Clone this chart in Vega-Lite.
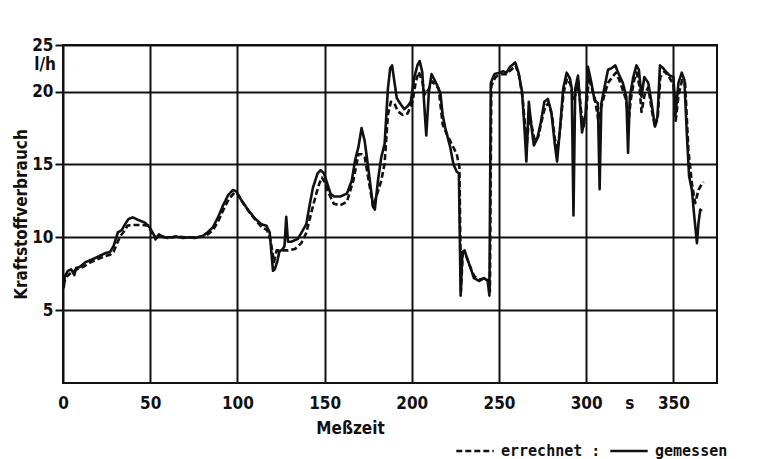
{
  "$schema": "https://vega.github.io/schema/vega-lite/v6.json",
  "width": 654,
  "height": 338,
  "autosize": {"type": "none"},
  "padding": {"left": 63, "top": 45, "right": 41, "bottom": 76},
  "background": "white",
  "config": {
    "view": {"stroke": "#111", "strokeWidth": 2},
    "font": "DejaVu Sans Condensed, Liberation Sans Narrow, sans-serif"
  },
  "datasets": {
    "curves": [
      {"serie": "gemessen", "t": 0, "v": 6.5}, {"serie": "gemessen", "t": 0.5, "v": 6.6}, {"serie": "gemessen", "t": 1, "v": 7.3}, {"serie": "gemessen", "t": 2.8, "v": 7.7}, {"serie": "gemessen", "t": 4.7, "v": 7.8}, {"serie": "gemessen", "t": 6.5, "v": 7.4}, {"serie": "gemessen", "t": 7.5, "v": 7.9}, {"serie": "gemessen", "t": 9.4, "v": 7.95}, {"serie": "gemessen", "t": 11, "v": 8.1}, {"serie": "gemessen", "t": 13, "v": 8.3}, {"serie": "gemessen", "t": 15, "v": 8.4}, {"serie": "gemessen", "t": 17, "v": 8.5}, {"serie": "gemessen", "t": 20.6, "v": 8.7}, {"serie": "gemessen", "t": 24, "v": 8.9}, {"serie": "gemessen", "t": 27, "v": 9.0}, {"serie": "gemessen", "t": 29, "v": 9.4}, {"serie": "gemessen", "t": 31.5, "v": 10.35}, {"serie": "gemessen", "t": 33.7, "v": 10.5}, {"serie": "gemessen", "t": 35.6, "v": 10.9}, {"serie": "gemessen", "t": 37.5, "v": 11.25}, {"serie": "gemessen", "t": 40, "v": 11.37}, {"serie": "gemessen", "t": 43, "v": 11.2}, {"serie": "gemessen", "t": 47, "v": 11.0}, {"serie": "gemessen", "t": 49.6, "v": 10.7}, {"serie": "gemessen", "t": 52.4, "v": 10.1}, {"serie": "gemessen", "t": 53, "v": 9.85}, {"serie": "gemessen", "t": 55, "v": 10.2}, {"serie": "gemessen", "t": 58, "v": 10.0}, {"serie": "gemessen", "t": 62, "v": 10.0}, {"serie": "gemessen", "t": 65, "v": 10.05}, {"serie": "gemessen", "t": 69, "v": 9.95}, {"serie": "gemessen", "t": 72, "v": 10.0}, {"serie": "gemessen", "t": 75.6, "v": 9.95}, {"serie": "gemessen", "t": 80.3, "v": 10.1}, {"serie": "gemessen", "t": 83, "v": 10.35}, {"serie": "gemessen", "t": 86, "v": 10.7}, {"serie": "gemessen", "t": 89, "v": 11.4}, {"serie": "gemessen", "t": 91.8, "v": 12.2}, {"serie": "gemessen", "t": 94.7, "v": 12.9}, {"serie": "gemessen", "t": 97.5, "v": 13.25}, {"serie": "gemessen", "t": 99.4, "v": 13.15}, {"serie": "gemessen", "t": 102, "v": 12.6}, {"serie": "gemessen", "t": 106, "v": 11.9}, {"serie": "gemessen", "t": 110, "v": 11.3}, {"serie": "gemessen", "t": 113.7, "v": 10.9}, {"serie": "gemessen", "t": 116.6, "v": 10.8}, {"serie": "gemessen", "t": 118.5, "v": 10.35}, {"serie": "gemessen", "t": 119.5, "v": 8.95}, {"serie": "gemessen", "t": 120.4, "v": 7.7}, {"serie": "gemessen", "t": 121.4, "v": 7.8}, {"serie": "gemessen", "t": 123, "v": 8.4}, {"serie": "gemessen", "t": 124, "v": 9.0}, {"serie": "gemessen", "t": 126, "v": 9.2}, {"serie": "gemessen", "t": 127, "v": 9.4}, {"serie": "gemessen", "t": 128, "v": 11.4}, {"serie": "gemessen", "t": 129, "v": 9.7}, {"serie": "gemessen", "t": 131, "v": 9.7}, {"serie": "gemessen", "t": 134.7, "v": 9.9}, {"serie": "gemessen", "t": 137.6, "v": 10.5}, {"serie": "gemessen", "t": 139.5, "v": 10.9}, {"serie": "gemessen", "t": 141.4, "v": 12.2}, {"serie": "gemessen", "t": 143.3, "v": 13.4}, {"serie": "gemessen", "t": 146, "v": 14.4}, {"serie": "gemessen", "t": 147.7, "v": 14.6}, {"serie": "gemessen", "t": 149.6, "v": 14.4}, {"serie": "gemessen", "t": 151.5, "v": 13.7}, {"serie": "gemessen", "t": 153.4, "v": 13.0}, {"serie": "gemessen", "t": 155.3, "v": 12.8}, {"serie": "gemessen", "t": 159, "v": 12.8}, {"serie": "gemessen", "t": 162.8, "v": 13.0}, {"serie": "gemessen", "t": 165.6, "v": 13.9}, {"serie": "gemessen", "t": 167.5, "v": 15.3}, {"serie": "gemessen", "t": 169.4, "v": 16.2}, {"serie": "gemessen", "t": 171.2, "v": 17.5}, {"serie": "gemessen", "t": 173, "v": 16.6}, {"serie": "gemessen", "t": 175, "v": 14.8}, {"serie": "gemessen", "t": 177.8, "v": 12.1}, {"serie": "gemessen", "t": 178.8, "v": 11.9}, {"serie": "gemessen", "t": 180.6, "v": 13.9}, {"serie": "gemessen", "t": 182.5, "v": 15.5}, {"serie": "gemessen", "t": 184.4, "v": 16.4}, {"serie": "gemessen", "t": 186.3, "v": 20.2}, {"serie": "gemessen", "t": 187.6, "v": 21.6}, {"serie": "gemessen", "t": 188.7, "v": 21.8}, {"serie": "gemessen", "t": 190, "v": 20.7}, {"serie": "gemessen", "t": 191.4, "v": 19.55}, {"serie": "gemessen", "t": 193.8, "v": 19.1}, {"serie": "gemessen", "t": 195.7, "v": 18.8}, {"serie": "gemessen", "t": 197.6, "v": 19.0}, {"serie": "gemessen", "t": 199.4, "v": 19.3}, {"serie": "gemessen", "t": 201.3, "v": 20.9}, {"serie": "gemessen", "t": 203.2, "v": 21.8}, {"serie": "gemessen", "t": 204.5, "v": 22.1}, {"serie": "gemessen", "t": 206, "v": 21.35}, {"serie": "gemessen", "t": 207.5, "v": 18.4}, {"serie": "gemessen", "t": 208.3, "v": 17.0}, {"serie": "gemessen", "t": 209.8, "v": 20.0}, {"serie": "gemessen", "t": 211.3, "v": 21.2}, {"serie": "gemessen", "t": 212.6, "v": 20.9}, {"serie": "gemessen", "t": 214.5, "v": 20.45}, {"serie": "gemessen", "t": 216.4, "v": 19.9}, {"serie": "gemessen", "t": 217.7, "v": 18.4}, {"serie": "gemessen", "t": 219.2, "v": 17.5}, {"serie": "gemessen", "t": 222, "v": 16.2}, {"serie": "gemessen", "t": 223.9, "v": 15.0}, {"serie": "gemessen", "t": 225.8, "v": 14.5}, {"serie": "gemessen", "t": 227, "v": 14.4}, {"serie": "gemessen", "t": 228, "v": 6.0}, {"serie": "gemessen", "t": 229, "v": 9.0}, {"serie": "gemessen", "t": 230.3, "v": 9.1}, {"serie": "gemessen", "t": 231.7, "v": 8.55}, {"serie": "gemessen", "t": 233.7, "v": 7.9}, {"serie": "gemessen", "t": 235.6, "v": 7.2}, {"serie": "gemessen", "t": 238.6, "v": 7.0}, {"serie": "gemessen", "t": 241.5, "v": 7.2}, {"serie": "gemessen", "t": 243.5, "v": 7.0}, {"serie": "gemessen", "t": 244.5, "v": 6.0}, {"serie": "gemessen", "t": 245.3, "v": 20.6}, {"serie": "gemessen", "t": 247.4, "v": 21.2}, {"serie": "gemessen", "t": 250.4, "v": 21.3}, {"serie": "gemessen", "t": 252.4, "v": 21.4}, {"serie": "gemessen", "t": 254.3, "v": 21.3}, {"serie": "gemessen", "t": 256.3, "v": 21.7}, {"serie": "gemessen", "t": 259.3, "v": 22.0}, {"serie": "gemessen", "t": 261.2, "v": 21.3}, {"serie": "gemessen", "t": 263.2, "v": 20.0}, {"serie": "gemessen", "t": 264.6, "v": 17.5}, {"serie": "gemessen", "t": 265.7, "v": 15.2}, {"serie": "gemessen", "t": 267.1, "v": 19.3}, {"serie": "gemessen", "t": 268.5, "v": 17.7}, {"serie": "gemessen", "t": 270, "v": 16.3}, {"serie": "gemessen", "t": 272, "v": 16.8}, {"serie": "gemessen", "t": 274, "v": 17.9}, {"serie": "gemessen", "t": 276, "v": 19.3}, {"serie": "gemessen", "t": 278, "v": 19.5}, {"serie": "gemessen", "t": 280, "v": 18.6}, {"serie": "gemessen", "t": 281.9, "v": 16.5}, {"serie": "gemessen", "t": 283.3, "v": 15.2}, {"serie": "gemessen", "t": 284.8, "v": 17.2}, {"serie": "gemessen", "t": 286.8, "v": 20.2}, {"serie": "gemessen", "t": 288.8, "v": 21.3}, {"serie": "gemessen", "t": 290.7, "v": 20.9}, {"serie": "gemessen", "t": 291.7, "v": 20.2}, {"serie": "gemessen", "t": 292.7, "v": 11.5}, {"serie": "gemessen", "t": 293.7, "v": 20.2}, {"serie": "gemessen", "t": 295.3, "v": 21.1}, {"serie": "gemessen", "t": 296.7, "v": 18.8}, {"serie": "gemessen", "t": 297.6, "v": 17.2}, {"serie": "gemessen", "t": 299.6, "v": 18.4}, {"serie": "gemessen", "t": 301, "v": 21.7}, {"serie": "gemessen", "t": 303, "v": 20.6}, {"serie": "gemessen", "t": 304.8, "v": 19.4}, {"serie": "gemessen", "t": 306.7, "v": 19.2}, {"serie": "gemessen", "t": 307.7, "v": 13.3}, {"serie": "gemessen", "t": 308.7, "v": 19.2}, {"serie": "gemessen", "t": 310.6, "v": 20.35}, {"serie": "gemessen", "t": 312.5, "v": 21.5}, {"serie": "gemessen", "t": 314.4, "v": 21.6}, {"serie": "gemessen", "t": 316.7, "v": 21.8}, {"serie": "gemessen", "t": 318.3, "v": 21.3}, {"serie": "gemessen", "t": 321, "v": 20.6}, {"serie": "gemessen", "t": 323, "v": 19.65}, {"serie": "gemessen", "t": 324, "v": 15.8}, {"serie": "gemessen", "t": 325, "v": 19.65}, {"serie": "gemessen", "t": 327, "v": 21.0}, {"serie": "gemessen", "t": 328.8, "v": 21.8}, {"serie": "gemessen", "t": 330.2, "v": 21.5}, {"serie": "gemessen", "t": 331.7, "v": 19.65}, {"serie": "gemessen", "t": 333.3, "v": 21.0}, {"serie": "gemessen", "t": 335.6, "v": 20.6}, {"serie": "gemessen", "t": 337.5, "v": 19.2}, {"serie": "gemessen", "t": 339.4, "v": 17.6}, {"serie": "gemessen", "t": 340.9, "v": 18.3}, {"serie": "gemessen", "t": 342.3, "v": 21.8}, {"serie": "gemessen", "t": 344.2, "v": 21.6}, {"serie": "gemessen", "t": 346.2, "v": 21.3}, {"serie": "gemessen", "t": 348, "v": 21.1}, {"serie": "gemessen", "t": 350, "v": 21.0}, {"serie": "gemessen", "t": 351.3, "v": 18.5}, {"serie": "gemessen", "t": 352.9, "v": 20.6}, {"serie": "gemessen", "t": 354.8, "v": 21.3}, {"serie": "gemessen", "t": 356.3, "v": 20.8}, {"serie": "gemessen", "t": 357.7, "v": 17.1}, {"serie": "gemessen", "t": 359, "v": 14.2}, {"serie": "gemessen", "t": 360.6, "v": 13.25}, {"serie": "gemessen", "t": 362, "v": 11.4}, {"serie": "gemessen", "t": 363.5, "v": 9.6}, {"serie": "gemessen", "t": 364.4, "v": 11.0}, {"serie": "gemessen", "t": 365.4, "v": 11.9}, {"serie": "gemessen", "t": 366.3, "v": 11.8},

      {"serie": "errechnet", "t": 0, "v": 6.7}, {"serie": "errechnet", "t": 2, "v": 7.3}, {"serie": "errechnet", "t": 5, "v": 7.6}, {"serie": "errechnet", "t": 8, "v": 7.8}, {"serie": "errechnet", "t": 12, "v": 8.0}, {"serie": "errechnet", "t": 16, "v": 8.3}, {"serie": "errechnet", "t": 20, "v": 8.5}, {"serie": "errechnet", "t": 24, "v": 8.7}, {"serie": "errechnet", "t": 27, "v": 8.8}, {"serie": "errechnet", "t": 29, "v": 9.0}, {"serie": "errechnet", "t": 31, "v": 9.6}, {"serie": "errechnet", "t": 33, "v": 10.1}, {"serie": "errechnet", "t": 35, "v": 10.4}, {"serie": "errechnet", "t": 37, "v": 10.8}, {"serie": "errechnet", "t": 40, "v": 10.85}, {"serie": "errechnet", "t": 45, "v": 10.85}, {"serie": "errechnet", "t": 49, "v": 10.8}, {"serie": "errechnet", "t": 51, "v": 10.3}, {"serie": "errechnet", "t": 53, "v": 10.0}, {"serie": "errechnet", "t": 56, "v": 10.1}, {"serie": "errechnet", "t": 60, "v": 9.95}, {"serie": "errechnet", "t": 65, "v": 10.05}, {"serie": "errechnet", "t": 70, "v": 10.0}, {"serie": "errechnet", "t": 75, "v": 10.0}, {"serie": "errechnet", "t": 80, "v": 10.05}, {"serie": "errechnet", "t": 83, "v": 10.2}, {"serie": "errechnet", "t": 86, "v": 10.5}, {"serie": "errechnet", "t": 89, "v": 11.1}, {"serie": "errechnet", "t": 92, "v": 11.9}, {"serie": "errechnet", "t": 95, "v": 12.6}, {"serie": "errechnet", "t": 98.5, "v": 13.1}, {"serie": "errechnet", "t": 100, "v": 13.0}, {"serie": "errechnet", "t": 103, "v": 12.4}, {"serie": "errechnet", "t": 107, "v": 11.7}, {"serie": "errechnet", "t": 111, "v": 11.1}, {"serie": "errechnet", "t": 114, "v": 10.7}, {"serie": "errechnet", "t": 117, "v": 10.5}, {"serie": "errechnet", "t": 119, "v": 9.8}, {"serie": "errechnet", "t": 121, "v": 8.3}, {"serie": "errechnet", "t": 122.5, "v": 9.1}, {"serie": "errechnet", "t": 126, "v": 9.1}, {"serie": "errechnet", "t": 129, "v": 9.1}, {"serie": "errechnet", "t": 133, "v": 9.2}, {"serie": "errechnet", "t": 136.6, "v": 9.6}, {"serie": "errechnet", "t": 139.5, "v": 10.3}, {"serie": "errechnet", "t": 142.4, "v": 11.7}, {"serie": "errechnet", "t": 145, "v": 12.9}, {"serie": "errechnet", "t": 147, "v": 13.7}, {"serie": "errechnet", "t": 148.5, "v": 14.1}, {"serie": "errechnet", "t": 150, "v": 13.8}, {"serie": "errechnet", "t": 152, "v": 13.1}, {"serie": "errechnet", "t": 155.3, "v": 12.3}, {"serie": "errechnet", "t": 159, "v": 12.2}, {"serie": "errechnet", "t": 162.8, "v": 12.45}, {"serie": "errechnet", "t": 166.5, "v": 13.9}, {"serie": "errechnet", "t": 169.4, "v": 15.7}, {"serie": "errechnet", "t": 171.2, "v": 15.7}, {"serie": "errechnet", "t": 173, "v": 15.5}, {"serie": "errechnet", "t": 175, "v": 14.1}, {"serie": "errechnet", "t": 177.8, "v": 12.1}, {"serie": "errechnet", "t": 179.7, "v": 12.8}, {"serie": "errechnet", "t": 182.5, "v": 13.9}, {"serie": "errechnet", "t": 184.4, "v": 15.05}, {"serie": "errechnet", "t": 186.3, "v": 18.4}, {"serie": "errechnet", "t": 188, "v": 19.3}, {"serie": "errechnet", "t": 190, "v": 19.2}, {"serie": "errechnet", "t": 192, "v": 18.65}, {"serie": "errechnet", "t": 194.7, "v": 18.4}, {"serie": "errechnet", "t": 197.6, "v": 18.5}, {"serie": "errechnet", "t": 200.4, "v": 19.3}, {"serie": "errechnet", "t": 202.3, "v": 20.7}, {"serie": "errechnet", "t": 204, "v": 21.35}, {"serie": "errechnet", "t": 206, "v": 20.7}, {"serie": "errechnet", "t": 207.5, "v": 19.8}, {"serie": "errechnet", "t": 209.8, "v": 20.2}, {"serie": "errechnet", "t": 211.7, "v": 20.7}, {"serie": "errechnet", "t": 215.4, "v": 20.2}, {"serie": "errechnet", "t": 217.7, "v": 17.75}, {"serie": "errechnet", "t": 220, "v": 17.1}, {"serie": "errechnet", "t": 222.9, "v": 16.4}, {"serie": "errechnet", "t": 225.8, "v": 15.7}, {"serie": "errechnet", "t": 227.3, "v": 14.8}, {"serie": "errechnet", "t": 228.2, "v": 6.3}, {"serie": "errechnet", "t": 229.2, "v": 8.9}, {"serie": "errechnet", "t": 231, "v": 8.8}, {"serie": "errechnet", "t": 234, "v": 7.8}, {"serie": "errechnet", "t": 236, "v": 7.3}, {"serie": "errechnet", "t": 239, "v": 7.1}, {"serie": "errechnet", "t": 242, "v": 7.2}, {"serie": "errechnet", "t": 244, "v": 7.1}, {"serie": "errechnet", "t": 244.8, "v": 6.3}, {"serie": "errechnet", "t": 245.6, "v": 20.4}, {"serie": "errechnet", "t": 248, "v": 21.0}, {"serie": "errechnet", "t": 251, "v": 21.2}, {"serie": "errechnet", "t": 254, "v": 21.2}, {"serie": "errechnet", "t": 257, "v": 21.5}, {"serie": "errechnet", "t": 259.5, "v": 21.8}, {"serie": "errechnet", "t": 261.5, "v": 21.1}, {"serie": "errechnet", "t": 263.5, "v": 19.6}, {"serie": "errechnet", "t": 265, "v": 17.6}, {"serie": "errechnet", "t": 266, "v": 16.4}, {"serie": "errechnet", "t": 267.5, "v": 18.6}, {"serie": "errechnet", "t": 269, "v": 17.5}, {"serie": "errechnet", "t": 270.5, "v": 16.6}, {"serie": "errechnet", "t": 272.5, "v": 16.9}, {"serie": "errechnet", "t": 274.5, "v": 18.0}, {"serie": "errechnet", "t": 276.5, "v": 19.0}, {"serie": "errechnet", "t": 278.5, "v": 19.2}, {"serie": "errechnet", "t": 280.5, "v": 18.3}, {"serie": "errechnet", "t": 282, "v": 16.8}, {"serie": "errechnet", "t": 283.5, "v": 16.0}, {"serie": "errechnet", "t": 285, "v": 17.4}, {"serie": "errechnet", "t": 287, "v": 19.9}, {"serie": "errechnet", "t": 289, "v": 20.9}, {"serie": "errechnet", "t": 291, "v": 20.5}, {"serie": "errechnet", "t": 292.5, "v": 19.5}, {"serie": "errechnet", "t": 294, "v": 19.8}, {"serie": "errechnet", "t": 295.5, "v": 20.7}, {"serie": "errechnet", "t": 297, "v": 18.7}, {"serie": "errechnet", "t": 298.5, "v": 17.6}, {"serie": "errechnet", "t": 300, "v": 18.6}, {"serie": "errechnet", "t": 301.5, "v": 21.0}, {"serie": "errechnet", "t": 303, "v": 20.3}, {"serie": "errechnet", "t": 305, "v": 19.5}, {"serie": "errechnet", "t": 307, "v": 18.0}, {"serie": "errechnet", "t": 308.5, "v": 18.9}, {"serie": "errechnet", "t": 310.5, "v": 19.8}, {"serie": "errechnet", "t": 312.5, "v": 20.6}, {"serie": "errechnet", "t": 315, "v": 21.0}, {"serie": "errechnet", "t": 317, "v": 21.3}, {"serie": "errechnet", "t": 319, "v": 20.8}, {"serie": "errechnet", "t": 321, "v": 20.1}, {"serie": "errechnet", "t": 323, "v": 19.4}, {"serie": "errechnet", "t": 324.2, "v": 17.8}, {"serie": "errechnet", "t": 325.5, "v": 19.4}, {"serie": "errechnet", "t": 327.5, "v": 20.8}, {"serie": "errechnet", "t": 329, "v": 21.3}, {"serie": "errechnet", "t": 330.5, "v": 20.4}, {"serie": "errechnet", "t": 331.7, "v": 18.6}, {"serie": "errechnet", "t": 333.5, "v": 19.8}, {"serie": "errechnet", "t": 335.6, "v": 20.3}, {"serie": "errechnet", "t": 337.5, "v": 18.8}, {"serie": "errechnet", "t": 339.4, "v": 17.6}, {"serie": "errechnet", "t": 341, "v": 18.2}, {"serie": "errechnet", "t": 342.5, "v": 21.0}, {"serie": "errechnet", "t": 345, "v": 21.4}, {"serie": "errechnet", "t": 348, "v": 20.9}, {"serie": "errechnet", "t": 350, "v": 20.5}, {"serie": "errechnet", "t": 351.3, "v": 18.0}, {"serie": "errechnet", "t": 353, "v": 19.8}, {"serie": "errechnet", "t": 355, "v": 20.8}, {"serie": "errechnet", "t": 356.7, "v": 20.6}, {"serie": "errechnet", "t": 358.6, "v": 16.0}, {"serie": "errechnet", "t": 360.6, "v": 13.7}, {"serie": "errechnet", "t": 362.5, "v": 12.35}, {"serie": "errechnet", "t": 364.4, "v": 13.25}, {"serie": "errechnet", "t": 366, "v": 13.6}, {"serie": "errechnet", "t": 367.3, "v": 13.8}
    ],
    "unitY": [{"t": 0, "v": 21.8, "label": "l/h"}],
    "unitX": [{"t": 325, "v": 0, "label": "s"}]
  },
  "layer": [
    {
      "data": {"name": "curves"},
      "mark": {"type": "line", "color": "#111", "strokeWidth": 2.6, "strokeJoin": "round", "strokeCap": "butt"},
      "encoding": {
        "x": {
          "field": "t", "type": "quantitative",
          "scale": {"domain": [0, 375], "nice": false, "zero": false},
          "axis": {
            "values": [0, 50, 100, 150, 200, 250, 300, 350],
            "grid": true, "gridColor": "#111", "gridWidth": 2, "gridOpacity": 1,
            "ticks": false, "domain": false, "labelFlush": false,
            "labelFontSize": 17, "labelFontWeight": "bold", "labelColor": "#111", "labelPadding": 12,
            "title": "Meßzeit", "titleFontSize": 17, "titleFontWeight": "bold", "titleColor": "#111",
            "titleX": 287, "titlePadding": 9
          }
        },
        "y": {
          "field": "v", "type": "quantitative",
          "scale": {"domain": [0, 23.2], "nice": false, "zero": true},
          "axis": {
            "values": [5, 10, 15, 20, 23.2],
            "labelExpr": "datum.value > 23 ? '25' : datum.label",
            "grid": true, "gridColor": "#111", "gridWidth": 2, "gridOpacity": 1,
            "ticks": true, "tickSize": 8, "tickWidth": 2, "tickColor": "#111",
            "domain": false, "labelFlush": false,
            "labelFontSize": 17, "labelFontWeight": "bold", "labelColor": "#111", "labelPadding": 2,
            "title": "Kraftstoffverbrauch", "titleFontSize": 17, "titleFontWeight": "bold", "titleColor": "#111",
            "titlePadding": 1
          }
        },
        "strokeDash": {
          "field": "serie", "type": "nominal",
          "scale": {"domain": ["errechnet", "gemessen"], "range": [[6, 3], [1, 0]]},
          "legend": {
            "orient": "none", "legendX": 392, "legendY": 386, "direction": "horizontal",
            "title": null, "symbolType": "stroke", "symbolSize": 1400, "symbolStrokeWidth": 2.5,
            "symbolStrokeColor": "#111", "padding": 0,
            "labelFont": "DejaVu Sans Mono", "labelFontWeight": "bold", "labelFontSize": 15, "labelColor": "#111",
            "labelExpr": "datum.label == 'errechnet' ? 'errechnet :' : datum.label",
            "columnPadding": 4, "labelOffset": 6
          }
        }
      }
    },
    {
      "data": {"name": "unitY"},
      "mark": {"type": "text", "dx": -18, "align": "center", "baseline": "middle", "fontSize": 17, "fontWeight": "bold", "color": "#111"},
      "encoding": {
        "x": {"field": "t", "type": "quantitative"},
        "y": {"field": "v", "type": "quantitative"},
        "text": {"field": "label"}
      }
    },
    {
      "data": {"name": "unitX"},
      "mark": {"type": "text", "dy": 21, "align": "center", "baseline": "middle", "fontSize": 17, "fontWeight": "bold", "color": "#111"},
      "encoding": {
        "x": {"field": "t", "type": "quantitative"},
        "y": {"field": "v", "type": "quantitative"},
        "text": {"field": "label"}
      }
    }
  ]
}
